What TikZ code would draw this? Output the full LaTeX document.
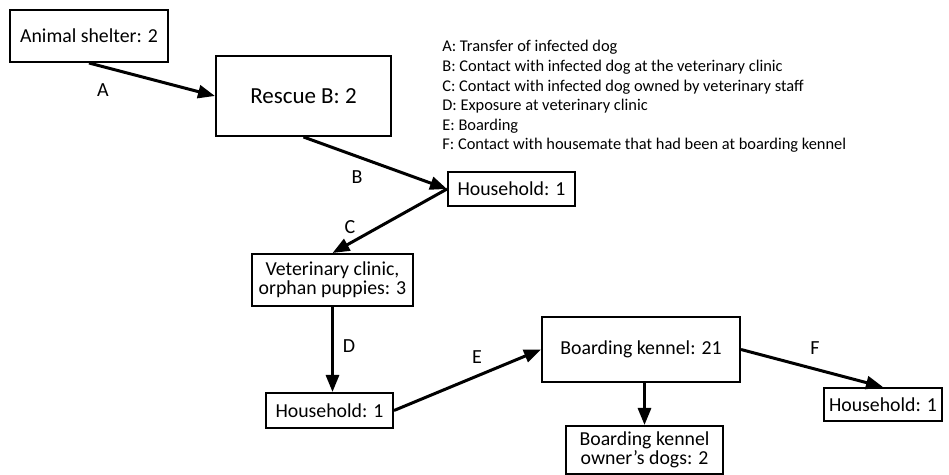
\documentclass[tikz,border=0pt]{standalone}
\usepackage{fontspec}
\setmainfont{Carlito}
\usetikzlibrary{arrows.meta}

\begin{document}
\begin{tikzpicture}[x=0.5pt,y=-0.5pt,
    box/.style={draw,line width=1pt,inner sep=0pt,align=center,font=\fontsize{9.9}{9.6}\selectfont},
    link/.style={line width=1.5pt,-{Triangle[length=8.5pt,width=6.5pt]}},
    tag/.style={font=\fontsize{10}{12}\selectfont}]
    \useasboundingbox (0,0) rectangle (949,475);
    \node[box,minimum width=79pt,minimum height=26pt] (shelter) at (89,36) {Animal shelter: 2};
    \node[box,minimum width=87.5pt,minimum height=40pt,font=\fontsize{11.5}{13}\selectfont] (rescue) at (303.5,96) {Rescue B: 2};
    \node[box,minimum width=63.5pt,minimum height=17pt] (hhone) at (511.5,189) {Household: 1};
    \node[box,minimum width=80.5pt,minimum height=26pt] (vet) at (332.5,280) {Veterinary clinic,\\orphan puppies: 3};
    \node[box,minimum width=63.5pt,minimum height=17.5pt] (hhtwo) at (329.5,410.5) {Household: 1};
    \node[box,minimum width=99pt,minimum height=32.5pt] (kennel) at (641,349.5) {Boarding kennel: 21};
    \node[box,minimum width=59pt,minimum height=16.5pt] (hhthree) at (883,404.5) {Household: 1};
    \node[box,minimum width=78.5pt,minimum height=24pt] (owner) at (644.5,450) {Boarding kennel\\owner’s dogs: 2};
    \draw[link] (shelter.south) -- (rescue.west);
    \draw[link] (rescue.south) -- (hhone.west);
    \draw[link] (hhone.west) -- (vet.north);
    \draw[link] (vet.south) -- (vet.south |- hhtwo.north);
    \draw[link] (hhtwo.east) -- (kennel.west);
    \draw[link] (kennel.east) -- (hhthree.north);
    \draw[link] (owner.north |- kennel.south) -- (owner.north);
    \foreach \l/\p in {A/{(103,90)},B/{(357,177)},C/{(350,227)},D/{(349,346)},E/{(477,357)},F/{(815,348)}}{
      \node[tag] (tag\l) at \p {\l};
    }
    \foreach \t [count=\i from 0] in {
      A: Transfer of infected dog,
      B: Contact with infected dog at the veterinary clinic,
      C: Contact with infected dog owned by veterinary staff,
      D: Exposure at veterinary clinic,
      E: Boarding,
      F: Contact with housemate that had been at boarding kennel
    }{
      \node[anchor=base west,inner sep=0pt,font=\fontsize{8.2}{10}\selectfont] (key\i) at (442,52+19.6*\i) {\t};
    }
\end{tikzpicture}
\end{document}
